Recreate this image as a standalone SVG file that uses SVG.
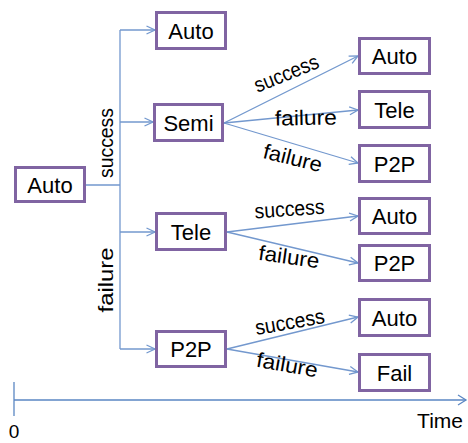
<svg xmlns="http://www.w3.org/2000/svg" width="468" height="443" viewBox="0 0 468 443">
  <style>
    .box { fill: #ffffff; stroke: #8064A2; stroke-width: 3; }
    .lbl { font-family: "Liberation Sans", Arial, sans-serif; font-size: 21px; fill: #000000; text-anchor: middle; }
    .node { font-size: 22px; }
    .edge { fill: none; stroke: #7398CE; stroke-width: 1.3; }
    .axis { fill: none; stroke: #5B87C3; stroke-width: 1.3; }
  </style>
  <defs>
    <marker id="chev" viewBox="0 0 10 10" refX="9.5" refY="5" markerWidth="10" markerHeight="10" markerUnits="userSpaceOnUse" orient="auto">
      <path d="M1,1 L9.5,5 L1,9" fill="none" stroke="#7398CE" stroke-width="1.3"/>
    </marker>
  </defs>

  <!-- connectors -->
  <g id="connectors">
    <path class="edge" d="M86,185 H120 M120,30 V349"/>
    <path class="edge" d="M120,30 H155" marker-end="url(#chev)"/>
    <path class="edge" d="M120,122 H153" marker-end="url(#chev)"/>
    <path class="edge" d="M120,232 H155" marker-end="url(#chev)"/>
    <path class="edge" d="M120,349 H155" marker-end="url(#chev)"/>

    <path class="edge" d="M224,123 L358,56" marker-end="url(#chev)"/>
    <path class="edge" d="M224,123 L358,110" marker-end="url(#chev)"/>
    <path class="edge" d="M224,123 L358,163" marker-end="url(#chev)"/>

    <path class="edge" d="M227,232 L358,216" marker-end="url(#chev)"/>
    <path class="edge" d="M227,232 L358,263" marker-end="url(#chev)"/>

    <path class="edge" d="M227,349 L358,317" marker-end="url(#chev)"/>
    <path class="edge" d="M227,349 L358,372" marker-end="url(#chev)"/>

    <text class="lbl" transform="translate(113,143) rotate(-90)" textLength="70" lengthAdjust="spacingAndGlyphs">success</text>
    <text class="lbl" transform="translate(113,280) rotate(-90)" textLength="65" lengthAdjust="spacingAndGlyphs">failure</text>

    <text class="lbl" transform="translate(289,80) rotate(-22)" textLength="68" lengthAdjust="spacingAndGlyphs">success</text>
    <text class="lbl" transform="translate(306,125) rotate(-1)" textLength="62" lengthAdjust="spacingAndGlyphs">failure</text>
    <text class="lbl" transform="translate(291,165) rotate(14)" textLength="60" lengthAdjust="spacingAndGlyphs">failure</text>

    <text class="lbl" transform="translate(290,216) rotate(-4)" textLength="70" lengthAdjust="spacingAndGlyphs">success</text>
    <text class="lbl" transform="translate(288,264) rotate(8)" textLength="61" lengthAdjust="spacingAndGlyphs">failure</text>

    <text class="lbl" transform="translate(291,329) rotate(-10)" textLength="70" lengthAdjust="spacingAndGlyphs">success</text>
    <text class="lbl" transform="translate(286,372) rotate(10)" textLength="62" lengthAdjust="spacingAndGlyphs">failure</text>
  </g>

  <!-- nodes -->
  <g id="root-auto"><rect class="box" x="15.5" y="167.5" width="69" height="34"/><text class="lbl node" x="50" y="192.5">Auto</text></g>
  <g id="auto-1"><rect class="box" x="156.5" y="12.5" width="69" height="36"/><text class="lbl node" x="191" y="38.5">Auto</text></g>
  <g id="semi"><rect class="box" x="154.5" y="104.5" width="68" height="36"/><text class="lbl node" x="188.5" y="130.5">Semi</text></g>
  <g id="tele"><rect class="box" x="156.5" y="213.5" width="69" height="36"/><text class="lbl node" x="191" y="239.5">Tele</text></g>
  <g id="p2p"><rect class="box" x="156.5" y="331.5" width="69" height="35"/><text class="lbl node" x="191" y="357">P2P</text></g>

  <g id="semi-auto"><rect class="box" x="359.5" y="38.5" width="70" height="35"/><text class="lbl node" x="394.5" y="64">Auto</text></g>
  <g id="semi-tele"><rect class="box" x="359.5" y="91.5" width="70" height="36"/><text class="lbl node" x="394.5" y="117.5">Tele</text></g>
  <g id="semi-p2p"><rect class="box" x="359.5" y="145.5" width="70" height="36"/><text class="lbl node" x="394.5" y="171.5">P2P</text></g>
  <g id="tele-auto"><rect class="box" x="359.5" y="198.5" width="70" height="35"/><text class="lbl node" x="394.5" y="224">Auto</text></g>
  <g id="tele-p2p"><rect class="box" x="359.5" y="245.5" width="70" height="35"/><text class="lbl node" x="394.5" y="271">P2P</text></g>
  <g id="p2p-auto"><rect class="box" x="359.5" y="299.5" width="70" height="36"/><text class="lbl node" x="394.5" y="325.5">Auto</text></g>
  <g id="p2p-fail"><rect class="box" x="359.5" y="354.5" width="70" height="36"/><text class="lbl node" x="394.5" y="380.5">Fail</text></g>

  <!-- time axis -->
  <g id="time-axis">
    <path class="axis" d="M14,382 V416 M14,400 H466"/>
    <path class="axis" d="M458,395 L466,400 L458,405"/>
    <text class="lbl" x="14" y="438" style="font-size:19px">0</text>
    <text class="lbl" x="463" y="428" style="text-anchor:end">Time</text>
  </g>
</svg>
